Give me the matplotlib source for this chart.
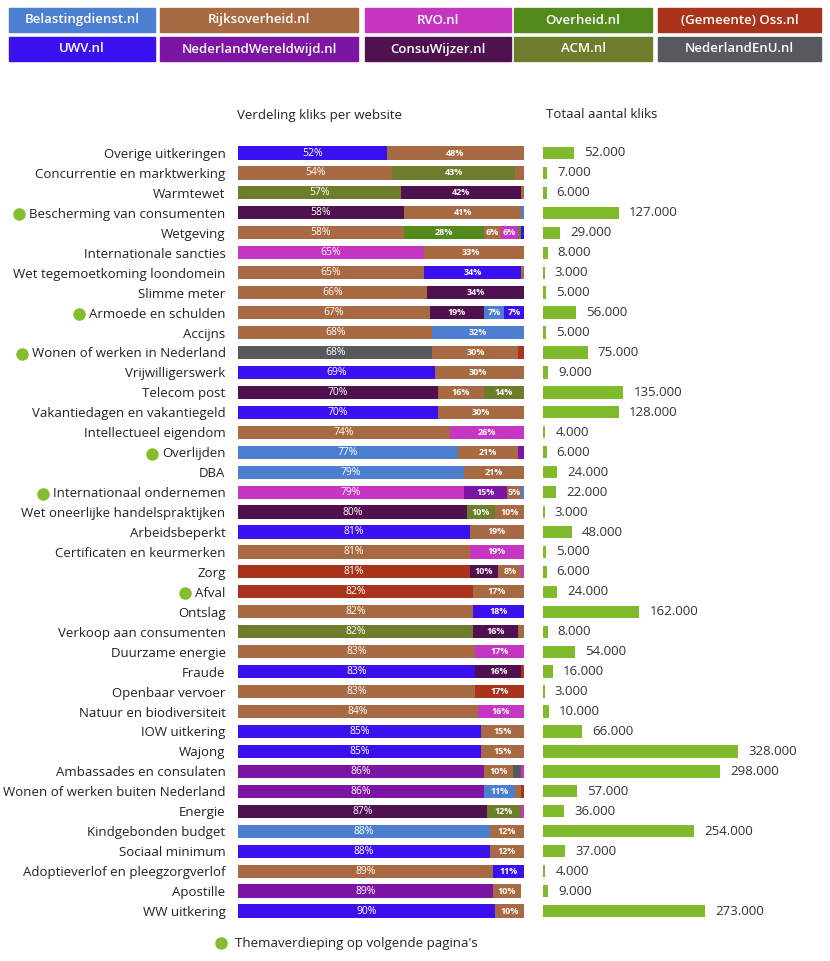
import matplotlib.pyplot as plt
from matplotlib.patches import Rectangle

plt.rcParams['font.family'] = ['Open Sans', 'DejaVu Sans']

# sites and their colours
sites = ["Belastingdienst.nl", "Rijksoverheid.nl", "RVO.nl", "Overheid.nl", "(Gemeente) Oss.nl",
         "UWV.nl", "NederlandWereldwijd.nl", "ConsuWijzer.nl", "ACM.nl", "NederlandEnU.nl"]
site_colors = ["#4d7fd1", "#a86a42", "#c536c2", "#528a1c", "#a9331b",
               "#3b10ef", "#7c15a4", "#4f114f", "#6c7e2c", "#56595d"]

topics = ["Overige uitkeringen", "Concurrentie en marktwerking", "Warmtewet",
          "Bescherming van consumenten", "Wetgeving", "Internationale sancties",
          "Wet tegemoetkoming loondomein", "Slimme meter", "Armoede en schulden", "Accijns",
          "Wonen of werken in Nederland", "Vrijwilligerswerk", "Telecom post",
          "Vakantiedagen en vakantiegeld", "Intellectueel eigendom", "Overlijden", "DBA",
          "Internationaal ondernemen", "Wet oneerlijke handelspraktijken", "Arbeidsbeperkt",
          "Certificaten en keurmerken", "Zorg", "Afval", "Ontslag", "Verkoop aan consumenten",
          "Duurzame energie", "Fraude", "Openbaar vervoer", "Natuur en biodiversiteit",
          "IOW uitkering", "Wajong", "Ambassades en consulaten",
          "Wonen of werken buiten Nederland", "Energie", "Kindgebonden budget",
          "Sociaal minimum", "Adoptieverlof en pleegzorgverlof", "Apostille", "WW uitkering"]

themed = ["Bescherming van consumenten", "Armoede en schulden", "Wonen of werken in Nederland",
          "Overlijden", "Internationaal ondernemen", "Afval"]

totals = [52000, 7000, 6000, 127000, 29000, 8000, 3000, 5000, 56000, 5000,
          75000, 9000, 135000, 128000, 4000, 6000, 24000, 22000, 3000, 48000,
          5000, 6000, 24000, 162000, 8000, 54000, 16000, 3000, 10000, 66000,
          328000, 298000, 57000, 36000, 254000, 37000, 4000, 9000, 273000]

# share per website (%), in drawing order, per topic
shares = [
    [("UWV.nl", 52), ("Rijksoverheid.nl", 48)],
    [("Rijksoverheid.nl", 54), ("ACM.nl", 43), ("Rijksoverheid.nl", 3)],
    [("ACM.nl", 57), ("ConsuWijzer.nl", 42), ("Rijksoverheid.nl", 1)],
    [("ConsuWijzer.nl", 58), ("Rijksoverheid.nl", 41), ("Belastingdienst.nl", 1)],
    [("Rijksoverheid.nl", 58), ("Overheid.nl", 28), ("Rijksoverheid.nl", 6), ("RVO.nl", 6),
     ("ACM.nl", 1), ("UWV.nl", 1)],
    [("RVO.nl", 65), ("Rijksoverheid.nl", 33), ("Rijksoverheid.nl", 2)],
    [("Rijksoverheid.nl", 65), ("UWV.nl", 34), ("Rijksoverheid.nl", 1)],
    [("Rijksoverheid.nl", 66), ("ConsuWijzer.nl", 34)],
    [("Rijksoverheid.nl", 67), ("ConsuWijzer.nl", 19), ("Belastingdienst.nl", 7), ("UWV.nl", 7)],
    [("Rijksoverheid.nl", 68), ("Belastingdienst.nl", 32)],
    [("NederlandEnU.nl", 68), ("Rijksoverheid.nl", 30), ("(Gemeente) Oss.nl", 2)],
    [("UWV.nl", 69), ("Rijksoverheid.nl", 30), ("Rijksoverheid.nl", 1)],
    [("ConsuWijzer.nl", 70), ("Rijksoverheid.nl", 16), ("ACM.nl", 14)],
    [("UWV.nl", 70), ("Rijksoverheid.nl", 30)],
    [("Rijksoverheid.nl", 74), ("RVO.nl", 26)],
    [("Belastingdienst.nl", 77), ("Rijksoverheid.nl", 21), ("NederlandWereldwijd.nl", 2)],
    [("Belastingdienst.nl", 79), ("Rijksoverheid.nl", 21)],
    [("RVO.nl", 79), ("NederlandWereldwijd.nl", 15), ("Rijksoverheid.nl", 5), ("Belastingdienst.nl", 1)],
    [("ConsuWijzer.nl", 80), ("ACM.nl", 10), ("Rijksoverheid.nl", 10)],
    [("UWV.nl", 81), ("Rijksoverheid.nl", 19)],
    [("Rijksoverheid.nl", 81), ("RVO.nl", 19)],
    [("(Gemeente) Oss.nl", 81), ("ConsuWijzer.nl", 10), ("Rijksoverheid.nl", 8), ("RVO.nl", 1)],
    [("(Gemeente) Oss.nl", 82), ("Rijksoverheid.nl", 17), ("Rijksoverheid.nl", 1)],
    [("Rijksoverheid.nl", 82), ("UWV.nl", 18)],
    [("ACM.nl", 82), ("ConsuWijzer.nl", 16), ("Rijksoverheid.nl", 2)],
    [("Rijksoverheid.nl", 83), ("RVO.nl", 17)],
    [("UWV.nl", 83), ("ConsuWijzer.nl", 16), ("(Gemeente) Oss.nl", 1)],
    [("Rijksoverheid.nl", 83), ("(Gemeente) Oss.nl", 17)],
    [("Rijksoverheid.nl", 84), ("RVO.nl", 16)],
    [("UWV.nl", 85), ("Rijksoverheid.nl", 15)],
    [("UWV.nl", 85), ("Rijksoverheid.nl", 15)],
    [("NederlandWereldwijd.nl", 86), ("Rijksoverheid.nl", 10), ("NederlandEnU.nl", 3), ("RVO.nl", 1)],
    [("NederlandWereldwijd.nl", 86), ("Belastingdienst.nl", 11), ("Rijksoverheid.nl", 2), ("(Gemeente) Oss.nl", 1)],
    [("ConsuWijzer.nl", 87), ("ACM.nl", 12), ("RVO.nl", 1)],
    [("Belastingdienst.nl", 88), ("Rijksoverheid.nl", 12)],
    [("UWV.nl", 88), ("Rijksoverheid.nl", 12)],
    [("Rijksoverheid.nl", 89), ("UWV.nl", 11)],
    [("NederlandWereldwijd.nl", 89), ("Rijksoverheid.nl", 10)],
    [("UWV.nl", 90), ("Rijksoverheid.nl", 10)],
]

color_of = dict(zip(sites, site_colors))
dot_green = "#84bd2f"
bar_green = "#7fbb2a"

W, H = 830, 961
fig = plt.figure(figsize=(W / 100, H / 100), dpi=100)

def fx(px):
    return px / W

def fy(py):
    return 1 - py / H

n = len(topics)
row_top, row_bot = 153, 911
step = (row_bot - row_top) / (n - 1)
ax_top = row_top - step / 2
ax_bot = row_bot + step / 2

ax = fig.add_axes([fx(238), fy(ax_bot), fx(524 - 238), (ax_bot - ax_top) / H])
ax2 = fig.add_axes([fx(543), fy(ax_bot), fx(830 - 543), (ax_bot - ax_top) / H])

for i, row in enumerate(shares):
    left = 0
    for j, (site, pct) in enumerate(row):
        ax.barh(i, pct, left=left, height=0.66, color=color_of[site], linewidth=0)
        if pct >= 5:
            if j == 0:
                ax.text(left + pct / 2, i, f"{pct}%", ha="center", va="center",
                        color="white", fontsize=7.5)
            else:
                ax.text(left + pct / 2, i, f"{pct}%", ha="center", va="center",
                        color="white", fontsize=6.5, fontweight="bold")
        left += pct

ax.set_xlim(0, 100)
ax.set_ylim(n - 0.5, -0.5)
ax.set_yticks(range(n))
ax.set_yticklabels(topics, fontsize=9.5, color="#222222")
ax.tick_params(axis="y", length=0, pad=9)
ax.set_xticks([])
for s in ax.spines.values():
    s.set_visible(False)

ax2.barh(range(n), totals, height=0.62, color=bar_green, linewidth=0)
for i, t in enumerate(totals):
    ax2.text(t + 17000, i, f"{t:,}".replace(",", "."), va="center", ha="left",
             fontsize=9.5, color="#333333")
ax2.set_xlim(0, 328000 * (830 - 543) / 195)
ax2.set_ylim(n - 0.5, -0.5)
ax2.axis("off")

# column headers
fig.text(fx(237), fy(115), "Verdeling kliks per website", fontsize=9.5, va="center", color="#222222")
fig.text(fx(546), fy(115), "Totaal aantal kliks", fontsize=9.5, va="center", color="#222222")

# legend boxes at the top
cols = [(9, 155), (160, 358), (365, 511), (514, 652), (658, 821)]
rows = [(8, 32), (37, 61)]
for k, site in enumerate(sites):
    r, c = divmod(k, 5)
    x0, x1 = cols[c]
    y0, y1 = rows[r]
    fig.patches.append(Rectangle((fx(x0), fy(y1)), fx(x1 - x0), (y1 - y0) / H,
                                 transform=fig.transFigure, color=color_of[site], zorder=1))
    fig.text(fx((x0 + x1) / 2), fy((y0 + y1) / 2), site, ha="center", va="center",
             color="white", fontsize=9.5, fontweight="semibold")

# green dots for themed topics
fig.canvas.draw()
renderer = fig.canvas.get_renderer()
for lbl in ax.get_yticklabels():
    if lbl.get_text() in themed:
        bb = lbl.get_window_extent(renderer)
        yc = (bb.y0 + bb.y1) / 2
        fig.lines.append(plt.Line2D([(bb.x0 - 10) / W], [yc / H], marker="o", markersize=8,
                                    color=dot_green, transform=fig.transFigure))

fig.lines.append(plt.Line2D([fx(221)], [fy(943)], marker="o", markersize=8,
                            color=dot_green, transform=fig.transFigure))
fig.text(fx(235), fy(943), "Themaverdieping op volgende pagina's", fontsize=9.5,
         va="center", color="#222222")

fig.savefig("out.png", dpi=100)
